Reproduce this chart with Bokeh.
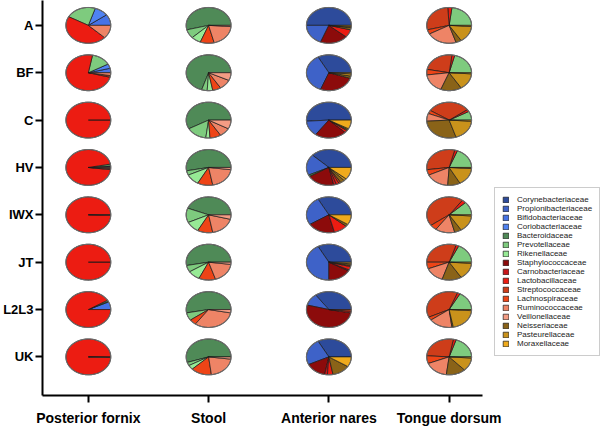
import numpy as np
from bokeh.plotting import figure
from bokeh.models import Range1d, FixedTicker, Legend, LegendItem, ColumnDataSource
from bokeh.embed import file_html
from bokeh.resources import INLINE

families = ["Corynebacteriaceae", "Propionibacteriaceae", "Bifidobacteriaceae",
            "Coriobacteriaceae", "Bacteroidaceae", "Prevotellaceae", "Rikenellaceae",
            "Staphylococcaceae", "Carnobacteriaceae", "Lactobacillaceae",
            "Streptococcaceae", "Lachnospiraceae", "Ruminococcaceae", "Veillonellaceae",
            "Neisseriaceae", "Pasteurellaceae", "Moraxellaceae"]
family_colors = ["#2D4B9B", "#3E62C8", "#4673E6", "#4F82F2", "#4F8A57", "#7ECB7E",
                 "#97EA95", "#8C0B0B", "#C8161A", "#EC1C12", "#CE3D1A", "#EE4416",
                 "#EE8466", "#F49C84", "#8A6318", "#C9921B", "#EFAA1C"]

subjects = ["A", "BF", "C", "HV", "IWX", "JT", "L2L3", "UK"]
sites = ["Posterior fornix", "Stool", "Anterior nares", "Tongue dorsum"]

# relative abundance (%) per subject, in family order
posterior_fornix = [
    [0, 0, 10, 10, 0, 22, 0, 0, 0, 46, 0, 0, 12, 0, 0, 0, 0],
    [0, 0, 4, 4, 0, 14, 0, 0, 0, 74, 1.5, 0, 2.5, 0, 0, 0, 0],
    [0, 0, 0, 0, 0, 0, 0, 0, 0, 100, 0, 0, 0, 0, 0, 0, 0],
    [0, 0, 1, 0.5, 0, 1.5, 0, 0, 0, 95, 1, 0, 1, 0, 0, 0, 0],
    [0, 0, 0, 0, 0, 0, 0, 0, 0, 99.7, 0.3, 0, 0, 0, 0, 0, 0],
    [0, 0, 0, 0, 0, 0, 0, 0, 0, 100, 0, 0, 0, 0, 0, 0, 0],
    [0, 0, 7, 0, 0.7, 1, 0, 0, 0, 91.3, 0, 0, 0, 0, 0, 0, 0],
    [0, 0, 0, 0, 0, 0, 0, 0, 0, 99.4, 0, 0, 0.6, 0, 0, 0, 0],
]
stool = [
    [0, 0, 0, 0, 54, 8, 7, 0, 0, 0, 0, 10, 20, 1, 0, 0, 0],
    [0, 0, 0, 0, 70, 4, 4, 0, 0, 0, 0, 6, 9, 7, 0, 0, 0],
    [0, 0, 0, 0, 58, 15, 3, 0, 0, 0, 0, 8, 8, 8, 0, 0, 0],
    [0, 0, 0, 0, 53, 4, 10, 0, 0, 0, 0, 11, 20, 2, 0, 0, 0],
    [0, 0, 0, 0, 44, 13, 10, 0, 0, 0, 0, 11, 18, 4, 0, 0, 0],
    [0, 0, 0, 0, 53, 6, 9, 0, 0, 0, 0, 12, 18, 2, 0, 0, 0],
    [0, 0, 0, 0, 53, 7, 0, 0, 0, 0, 0, 5, 32, 3, 0, 0, 0],
    [0, 0, 0, 0, 55, 3, 4, 0, 0, 0, 0, 15, 21, 2, 0, 0, 0],
]
anterior_nares = [
    [50, 19, 0, 0, 0, 0, 0, 20, 0, 7, 0, 0, 0, 0, 2, 1, 1],
    [33, 36, 0, 0, 0, 0, 0, 26, 0, 0, 0, 0, 0, 0, 2, 2, 1],
    [51, 14, 0, 0, 0, 0, 0, 23, 0, 2, 0, 0, 0, 0, 1, 1, 8],
    [38, 19, 0, 0, 1.5, 0, 0, 20, 2, 2, 1.5, 0, 0, 0, 3, 2, 11],
    [33, 26, 0, 0, 0, 0, 0, 20, 0, 10, 0, 0, 0, 0, 2, 0, 9],
    [33, 42, 0, 0, 0, 0, 0, 17, 1, 3, 1, 0, 0, 0, 1.5, 1.5, 0],
    [35, 11, 0, 0, 0, 0, 0, 51, 0, 1.5, 1.5, 0, 0, 0, 0, 0, 0],
    [33, 24, 0, 0, 0, 0, 0, 15, 2, 4, 0, 0, 0, 0, 13, 0, 9],
]
tongue_dorsum = [
    [0, 0, 0, 0, 0, 23, 0, 0, 0, 3, 28, 4, 22, 0, 4, 15, 1],
    [0, 0, 0, 0, 0, 21, 0, 0, 0, 2, 24, 5, 17, 0, 15, 15, 1],
    [0, 0, 0, 0, 0, 8, 0, 0, 0, 2, 31, 3, 7, 0, 29, 19, 1],
    [0, 0, 0, 0, 0, 19, 0, 0, 0, 2, 31, 5, 17, 0, 9, 16, 1],
    [0, 0, 0, 0, 0, 12, 0, 0, 0, 3, 45, 5, 14, 0, 5, 15, 1],
    [0, 0, 0, 0, 0, 18, 0, 0, 0, 2, 30, 6, 14, 0, 14, 15, 1],
    [0, 0, 0, 0, 0, 17, 0, 0, 0, 2, 38, 3, 17, 0, 1, 21, 1],
    [0, 0, 0, 0, 0, 20, 0, 0, 0, 2, 27, 7, 17, 0, 14, 12, 1],
]
site_data = [posterior_fornix, stool, anterior_nares, tongue_dorsum]

# ---- layout constants (pixels) ----
W, H = 600, 428
LEFT, BOTTOM = 40, 31
FRAME_W, FRAME_H = W - LEFT, H - BOTTOM
PX_X, PX_Y = 120.7, 47.6
X0 = -(86 - LEFT) / PX_X
X1 = X0 + FRAME_W / PX_X
Y1 = len(subjects) - 1 + 25 / PX_Y
Y0 = Y1 - FRAME_H / PX_Y
RX, RY = 22.5 / PX_X, 18 / PX_Y

p = figure(width=W, height=H, x_range=Range1d(X0, X1), y_range=Range1d(Y0, Y1),
           output_backend="svg", toolbar_location=None,
           min_border_left=LEFT, min_border_right=0, min_border_top=0,
           min_border_bottom=BOTTOM)
p.outline_line_color = None
p.grid.visible = False
p.background_fill_color = "white"

ypos = [len(subjects) - 1 - i for i in range(len(subjects))]

slice_xs = [[] for _ in families]
slice_ys = [[] for _ in families]
for s, data in enumerate(site_data):
    for i, vals in enumerate(data):
        v = np.array(vals, dtype=float)
        frac = v / v.sum()
        start = 0.0
        cx, cy = s, ypos[i]
        for f, fr in enumerate(frac):
            if fr <= 0:
                continue
            a0, a1 = start, start + fr * 2 * np.pi
            n = max(3, int(np.ceil(fr * 120)))
            t = np.linspace(a0, a1, n)
            xs = np.concatenate([[cx], cx + RX * np.cos(t), [cx]])
            ys = np.concatenate([[cy], cy + RY * np.sin(t), [cy]])
            slice_xs[f].append(xs.tolist())
            slice_ys[f].append(ys.tolist())
            start = a1

renderers = []
for f, name in enumerate(families):
    src = ColumnDataSource(dict(xs=slice_xs[f], ys=slice_ys[f]))
    r = p.patches("xs", "ys", source=src, fill_color=family_colors[f],
                  line_color="#1a1a1a", line_width=0.7)
    renderers.append(r)

# outer rim of each pie
t = np.linspace(0, 2 * np.pi, 200)
rim_xs, rim_ys = [], []
for s in range(len(sites)):
    for i in range(len(subjects)):
        rim_xs.append((s + RX * np.cos(t)).tolist())
        rim_ys.append((ypos[i] + RY * np.sin(t)).tolist())
p.multi_line(rim_xs, rim_ys, line_color="#6a6a6a", line_width=1.1)

# axes
for ax in (p.xaxis[0], p.yaxis[0]):
    ax.axis_line_width = 2
    ax.axis_line_color = "black"
    ax.major_tick_line_width = 2
    ax.major_tick_line_color = "black"
    ax.major_tick_in = 0
    ax.major_tick_out = 7
    ax.minor_tick_line_color = None
    ax.major_label_text_font = "Liberation Sans"
    ax.major_label_text_font_style = "bold"
    ax.major_label_text_color = "black"

p.xaxis.ticker = FixedTicker(ticks=list(range(len(sites))))
p.xaxis.major_label_overrides = {i: s for i, s in enumerate(sites)}
p.xaxis.major_label_text_font_size = "14px"
p.xaxis.major_label_standoff = 7
p.xaxis.bounds = (X0, (482 - 86) / PX_X)

p.yaxis.ticker = FixedTicker(ticks=ypos)
p.yaxis.major_label_overrides = {y: s for y, s in zip(ypos, subjects)}
p.yaxis.major_label_text_font_size = "13px"
p.yaxis.major_label_standoff = 2

legend = Legend(items=[LegendItem(label=n, renderers=[r]) for n, r in zip(families, renderers)],
                location=(492 - LEFT, FRAME_H - 358), border_line_color="#9a9a9a",
                border_line_width=1,
                label_text_font="Liberation Sans", label_text_font_size="8px",
                label_text_color="#222222",
                glyph_width=7, glyph_height=7, label_height=9, label_standoff=8,
                spacing=0, padding=7, margin=0, background_fill_alpha=1)
p.add_layout(legend)

open("out.html", "w").write(file_html(p, INLINE))
